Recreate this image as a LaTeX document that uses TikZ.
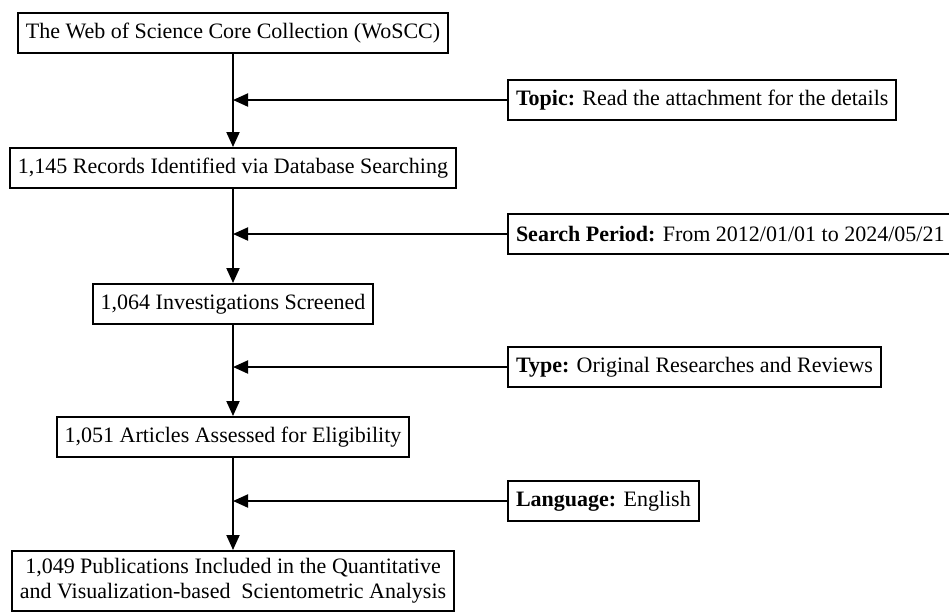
\documentclass[tikz,border=0pt]{standalone}
\usepackage{fontspec}
\setmainfont{Liberation Serif}
\usetikzlibrary{arrows.meta, calc}
\tikzset{
  stage/.style={draw, line width=1pt, minimum height=20pt, inner xsep=4pt,
    font=\fontsize{11}{12.5}\selectfont},
  filter/.style={stage, anchor=west},
  flow/.style={line width=1pt, -{Triangle[length=7.5pt, width=6.5pt]}}
}

\begin{document}
\begin{tikzpicture}[x=0.5pt, y=-0.5pt]
  \useasboundingbox (0,0) rectangle (949,612);

  % Main stages
  \node[stage] (wos) at (233,33) {The Web of Science Core Collection (WoSCC)};
  \node[stage] (records) at (233,168) {1,145 Records Identified via Database Searching};
  \node[stage] (screened) at (233,304) {1,064 Investigations Screened};
  \node[stage] (assessed) at (233,437) {1,051 Articles Assessed for Eligibility};
  \node[stage, align=center, minimum height=30pt] (included) at (233,581)
    {1,049 Publications Included in the Quantitative\\and Visualization-based\ \ Scientometric Analysis};

  % Filters on the right
  \node[filter] (topic) at (507,100) {\textbf{Topic:} Read the attachment for the details};
  \node[filter] (period) at (507,234) {\textbf{Search Period:} From 2012/01/01 to 2024/05/21};
  \node[filter] (type) at (507,367) {\textbf{Type:} Original Researches and Reviews};
  \node[filter] (lang) at (507,501) {\textbf{Language:} English};

  % Flow down
  \draw[flow] (wos) -- (records);
  \draw[flow] (records) -- (screened);
  \draw[flow] (screened) -- (assessed);
  \draw[flow] (assessed) -- (included);

  % Filters into the flow
  \draw[flow] (topic.west) -- (topic.west -| wos.south);
  \draw[flow] (period.west) -- (period.west -| wos.south);
  \draw[flow] (type.west) -- (type.west -| wos.south);
  \draw[flow] (lang.west) -- (lang.west -| wos.south);
\end{tikzpicture}
\end{document}
